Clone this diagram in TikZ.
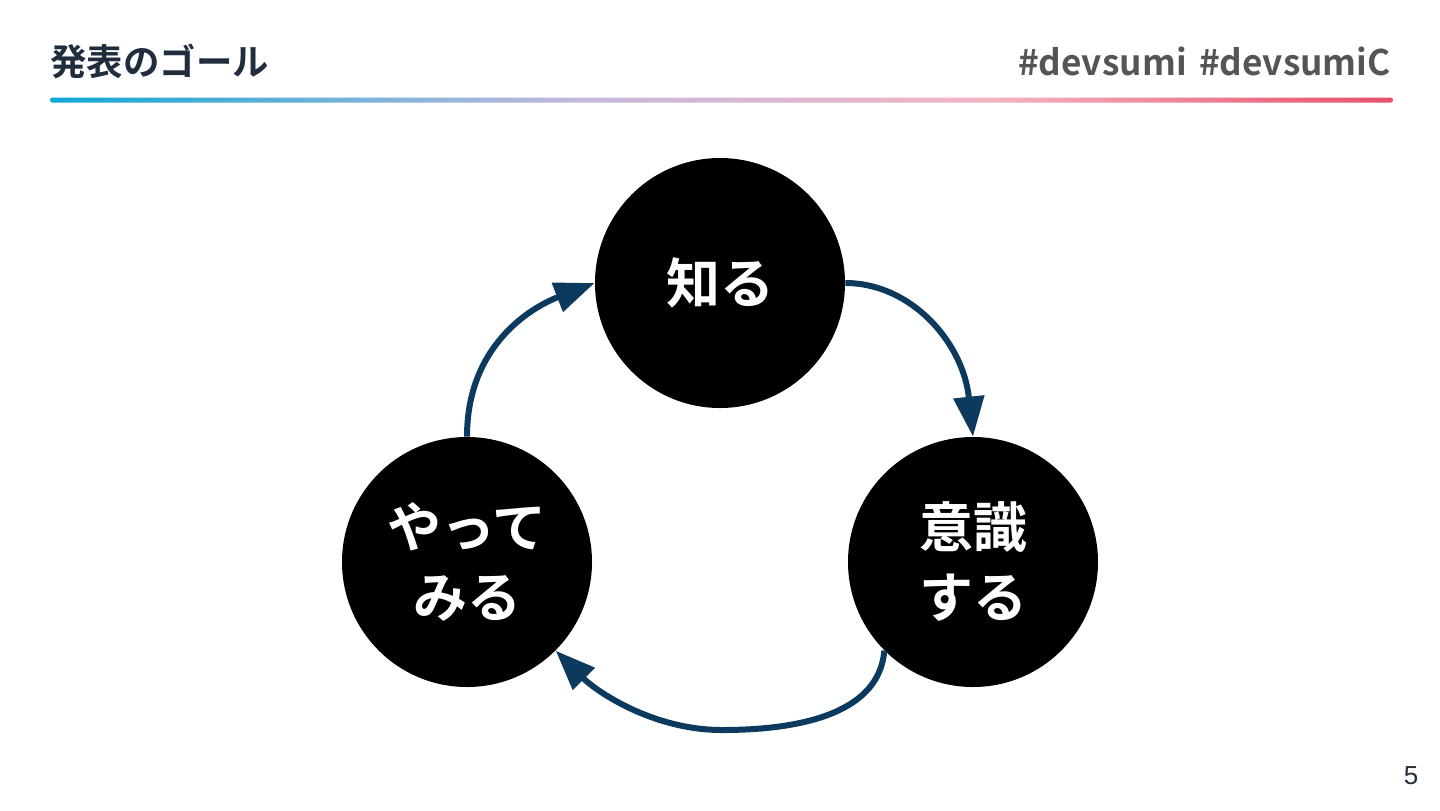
\documentclass[tikz,border=0pt]{standalone}
\usepackage{fontspec}
\setmainfont{Noto Sans CJK JP}
\newfontfamily\jpb{Noto Sans CJK JP Bold}
\newfontfamily\numf{Liberation Sans}
\usetikzlibrary{arrows.meta}
\definecolor{navy}{HTML}{0B3A5E}
\definecolor{titlec}{HTML}{1F2D3D}
\definecolor{hashc}{HTML}{555555}
\definecolor{g1}{HTML}{0EA8D6}
\definecolor{g2}{HTML}{C6B9DC}
\definecolor{g3}{HTML}{F4B3C3}
\definecolor{g4}{HTML}{E84E69}
\pgfdeclarehorizontalshading{barshade}{100bp}{color(0bp)=(g1); color(25bp)=(g1); color(45bp)=(g2); color(60bp)=(g3); color(75bp)=(g4); color(100bp)=(g4)}
\tikzset{
  stage/.style={circle, fill=black, minimum size=125pt, inner sep=0pt, text=white, font=\jpb\fontsize{27}{35}\selectfont, align=center},
  flow/.style={draw=navy, line width=3pt, -{Triangle[length=20pt,width=15pt]}}
}
\begin{document}
\begin{tikzpicture}[x=0.5pt,y=-0.5pt]
\useasboundingbox (0,0) rectangle (1440,810);
\fill[white] (0,0) rectangle (1440,810);
\node[anchor=west, text=titlec, font=\jpb\fontsize{18.2}{22}\selectfont, inner sep=0pt] (title) at (50,61) {発表のゴール};
\node[anchor=east, text=hashc, font=\jpb\fontsize{17.6}{21}\selectfont, inner sep=0pt] (tags) at (1391,61) {\#devsumi\hspace{0.35em}\#devsumiC};
\path[shading=barshade, rounded corners=1.2pt] (50,97.5) rectangle (1393,102.5);
\node[stage] (know) at (720,283) {知る};
\node[stage] (aware) at (973,562) {意識\\する};
\node[stage] (try) at (467,562) {やって\\みる};
\node[text=titlec, font=\numf\fontsize{13}{15}\selectfont, inner sep=0pt] (page) at (1411,776) {5};
\draw[flow] (try.north) .. controls +(0,-90) and +(-65,25) .. (know.west);
\draw[flow] (know.east) .. controls +(65,0) and +(-10,-95) .. (aware.north);
\coordinate (bot) at (722,730);
\draw[flow] (aware.-135) .. controls +(-5,60) and +(85,0) .. (bot) .. controls +(-70,0) and +(40,40) .. (try.-45);
\end{tikzpicture}
\end{document}
